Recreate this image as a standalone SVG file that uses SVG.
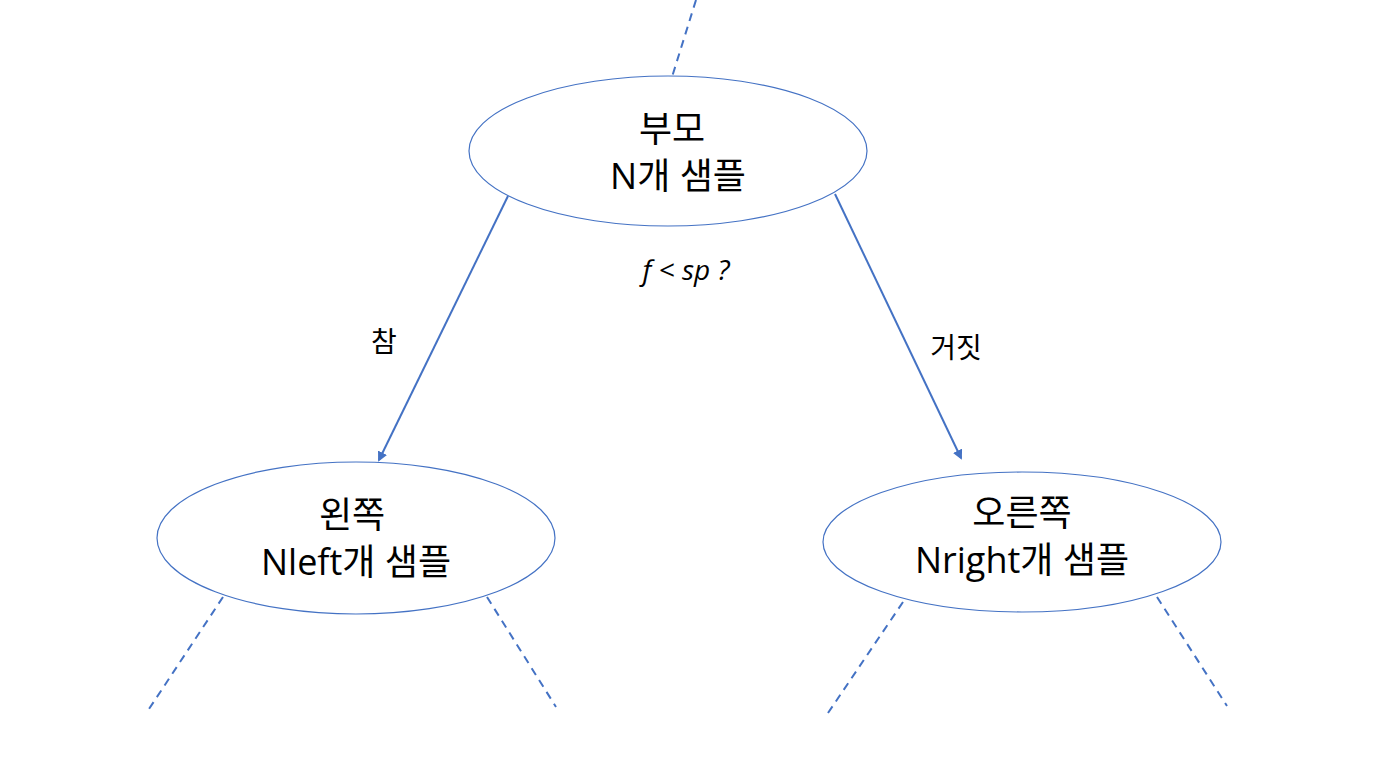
<svg xmlns="http://www.w3.org/2000/svg" width="1376" height="768" viewBox="0 0 1376 768">
<defs>
<marker id="ah" markerWidth="10" markerHeight="10" refX="8" refY="5" orient="auto" markerUnits="userSpaceOnUse"><path d="M0,0 L10,5 L0,10 z" fill="#4472C4"/></marker>
<style>
.n{fill:#fff;stroke:#4472C4;stroke-width:1.2}
.t{font-family:"Open Sans","Noto Sans CJK KR",sans-serif;font-size:36px;fill:#000;text-anchor:middle}
.l{font-family:"Open Sans","Noto Sans CJK KR",sans-serif;font-size:28px;fill:#000;text-anchor:middle}
.d{stroke:#4472C4;stroke-width:2;stroke-dasharray:8,6;fill:none}
.a{stroke:#4472C4;stroke-width:2;fill:none;marker-end:url(#ah)}
</style>
</defs>
<rect width="1376" height="768" fill="#fff"/>
<g id="connectors">
<line class="d" x1="696" y1="0" x2="672" y2="77"/>
<line class="d" x1="223" y1="597" x2="147" y2="712"/>
<line class="d" x1="487" y1="597" x2="556" y2="707"/>
<line class="d" x1="903" y1="602" x2="826" y2="716"/>
<line class="d" x1="1157" y1="597" x2="1227" y2="706"/>
<line class="a" x1="508" y1="196" x2="379" y2="460"/>
<line class="a" x1="835" y1="194" x2="961" y2="458"/>
<text class="l" x="384" y="352">참</text>
<text class="l" x="956" y="358">거짓</text>
<text class="l" x="686" y="280" font-style="italic">f &lt; sp ?</text>
</g>
<g id="parent"><ellipse class="n" cx="668" cy="151" rx="199" ry="75"/>
<text class="t" x="672" y="142">부모</text><text class="t" x="678" y="189">N개 샘플</text></g>
<g id="left"><ellipse class="n" cx="356" cy="538" rx="199" ry="76"/>
<text class="t" x="352" y="528">왼쪽</text><text class="t" x="356" y="575">Nleft개 샘플</text></g>
<g id="right"><ellipse class="n" cx="1022" cy="542" rx="199" ry="70"/>
<text class="t" x="1022" y="526">오른쪽</text><text class="t" x="1022" y="573">Nright개 샘플</text></g>
</svg>
